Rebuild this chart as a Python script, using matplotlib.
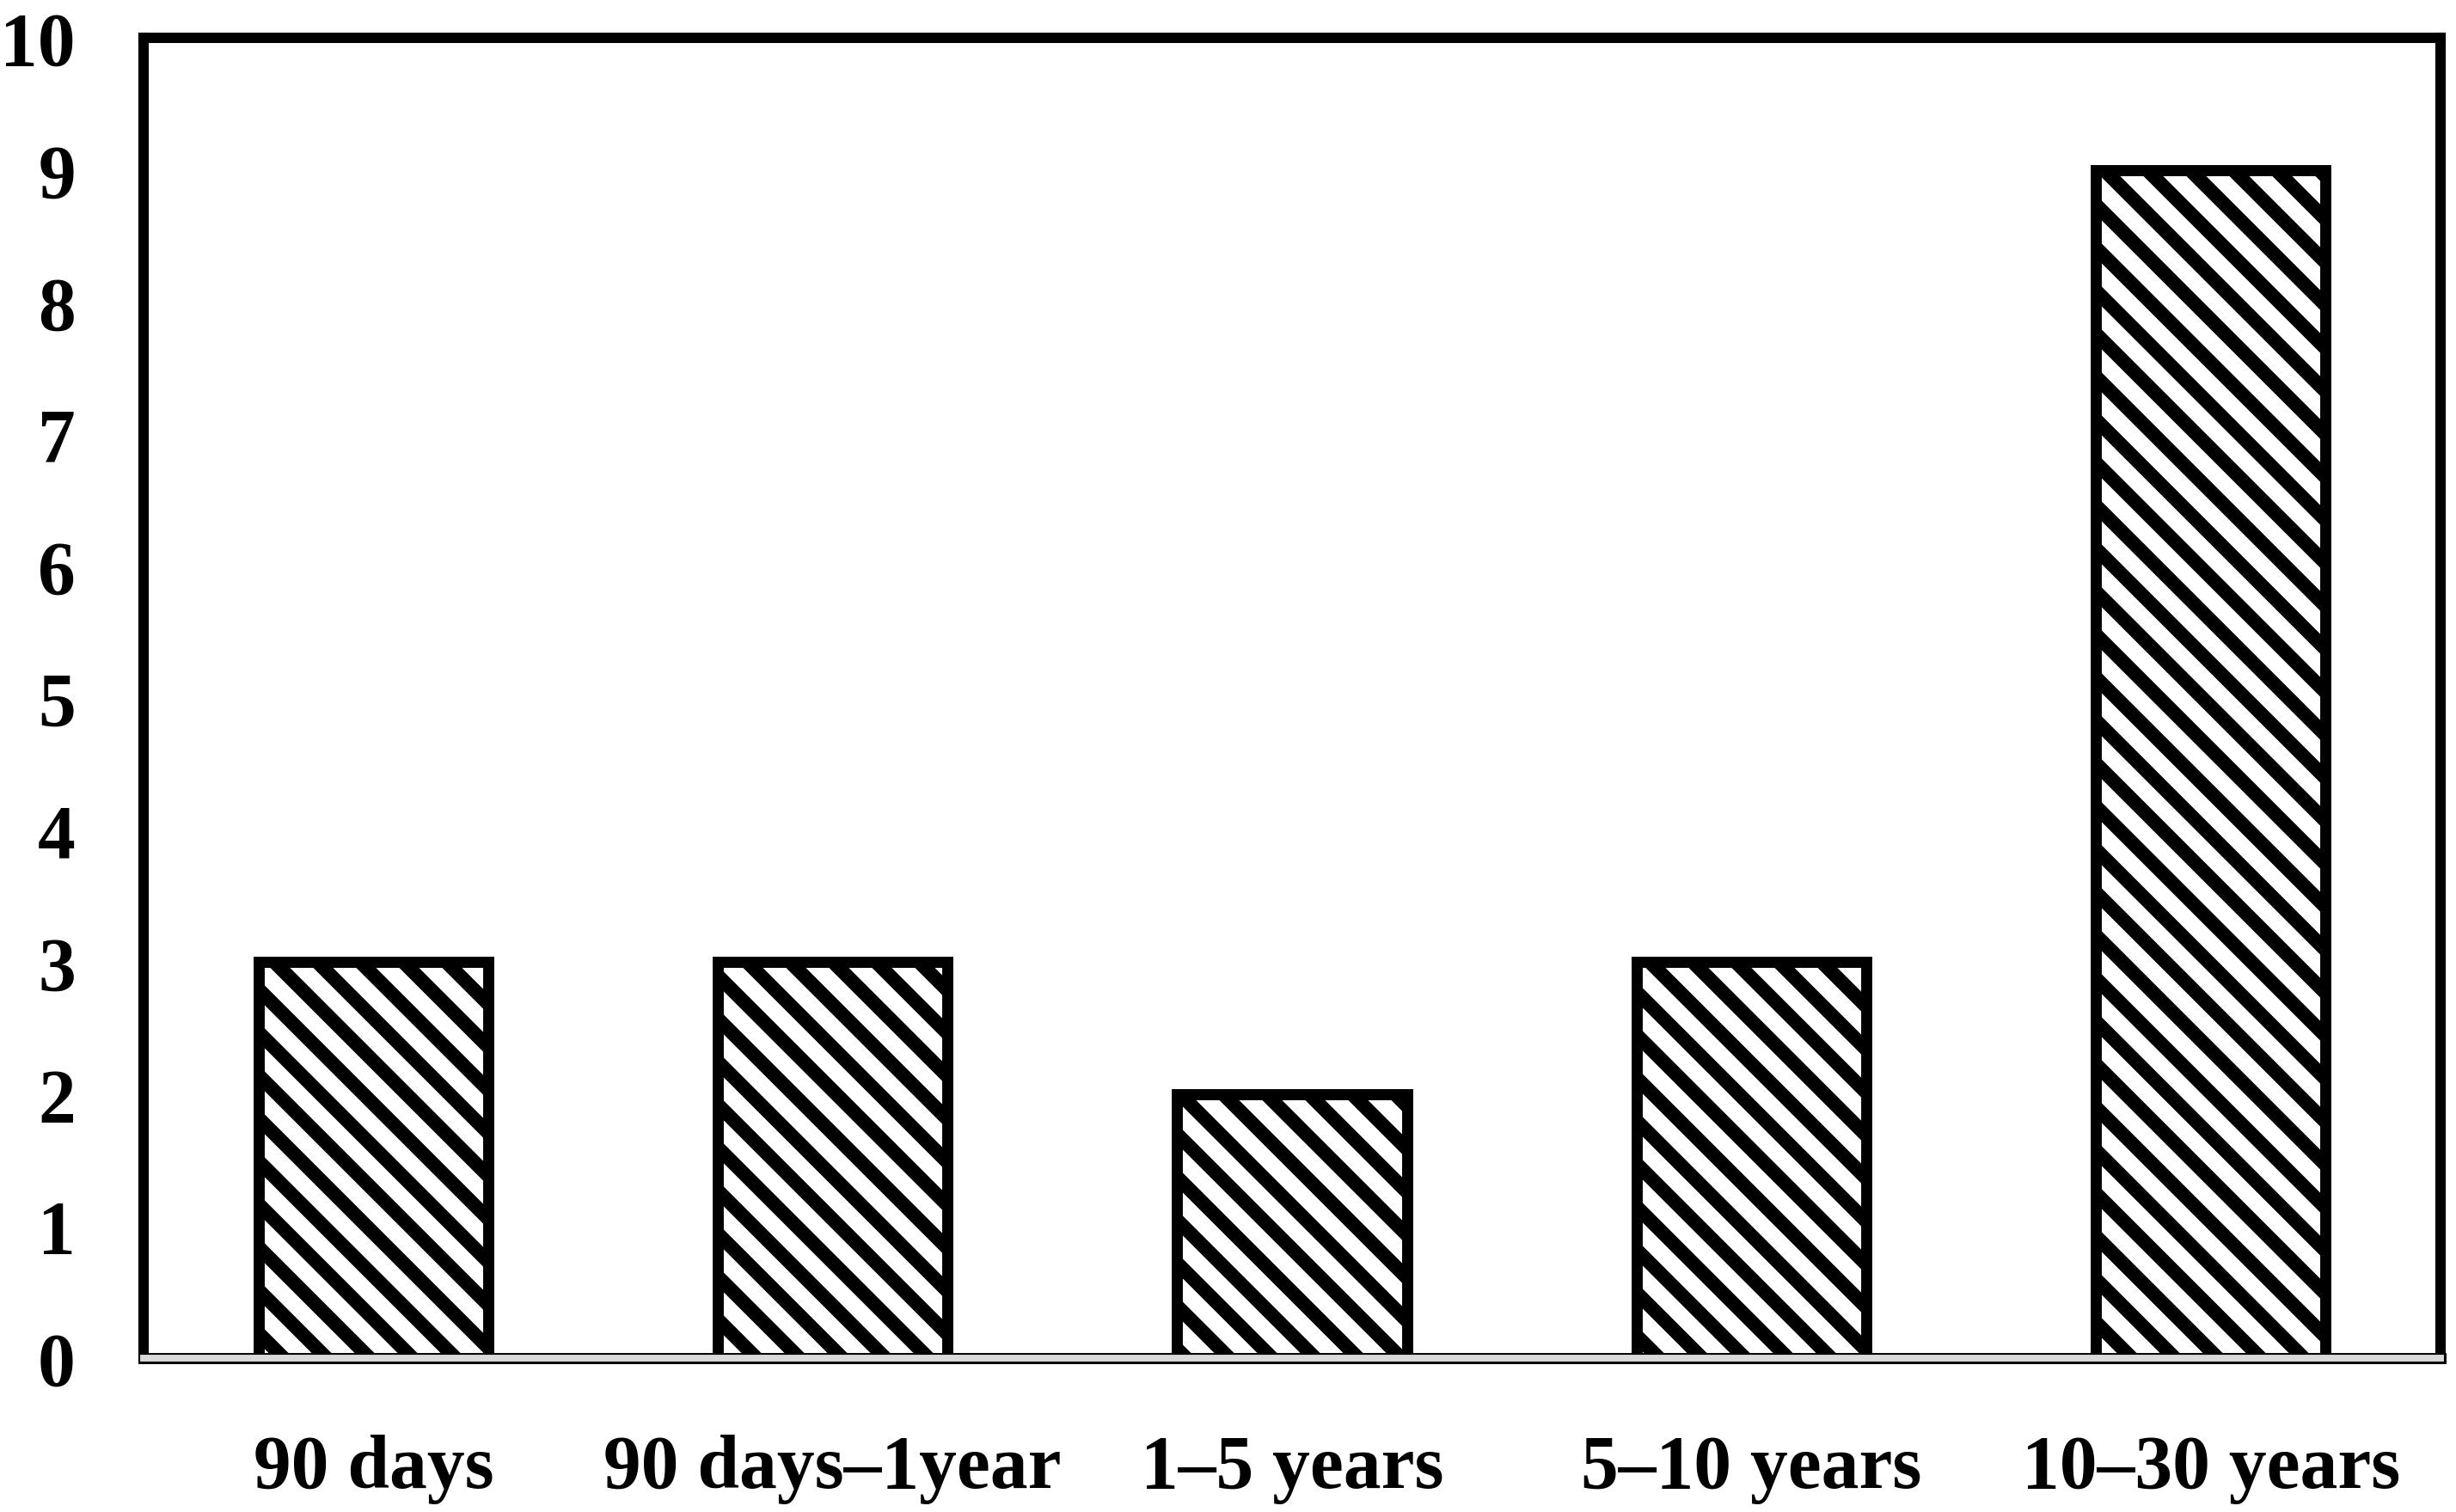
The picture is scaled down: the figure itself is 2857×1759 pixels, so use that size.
import matplotlib
matplotlib.use("Agg")
import matplotlib.pyplot as plt
import numpy as np

# categories and counts
categories = ["90 days", "90 days\u20131year", "1\u20135 years", "5\u201310 years", "10\u201330 years"]
counts = [3, 3, 2, 3, 9]
yticks = [0, 1, 2, 3, 4, 5, 6, 7, 8, 9, 10]

plt.rcParams['font.family'] = ['Liberation Serif', 'DejaVu Serif']
plt.rcParams['font.weight'] = 'bold'
plt.rcParams['hatch.linewidth'] = 3.9
plt.rcParams['hatch.color'] = 'black'

fig = plt.figure(figsize=(2857/300, 1760/300), dpi=300)
ax = fig.add_axes([0.0585, 0.1017, 0.9352, 0.8727])

x = np.arange(len(categories))
ax.bar(x, counts, width=0.5, color='white', edgecolor='black',
       linewidth=3.1, hatch='\\\\', zorder=3)

ax.set_xlim(-0.5, len(categories) - 0.5)
ax.set_ylim(0, 10)
ax.set_yticks(yticks)
ax.set_xticks(x)
ax.set_xticklabels(categories)

for s in ax.spines.values():
    s.set_linewidth(2.9)
    s.set_color('black')
ax.spines['bottom'].set_linewidth(3.1)
# light grey inner stroke on the base line
ax.axhline(0, color='#d9d9d9', linewidth=1.9, zorder=6, clip_on=False)

ax.tick_params(axis='both', length=0, labelsize=21)
ax.tick_params(axis='y', pad=19)
ax.tick_params(axis='x', pad=21)
for lab in ax.get_xticklabels() + ax.get_yticklabels():
    lab.set_fontweight('bold')

fig.savefig("out.png", dpi=300)
